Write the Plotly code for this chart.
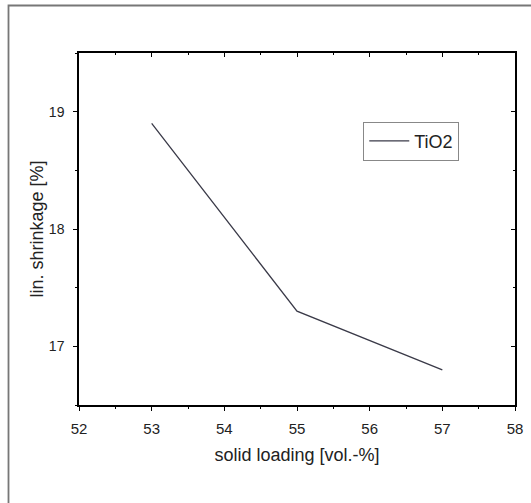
import plotly.graph_objects as go

solid_loading = [53, 55, 57]
shrinkage = [18.9, 17.3, 16.8]
series_name = "TiO2"
x_title = "solid loading [vol.-%]"
y_title = "lin. shrinkage [%]"
x_range = [52, 58]
y_range = [16.5, 19.5]

fig = go.Figure()
fig.add_trace(go.Scatter(x=solid_loading, y=shrinkage, mode="lines", name=series_name,
                         line=dict(color="#3a3a48", width=1.3), showlegend=True))
fig.add_trace(go.Scatter(x=solid_loading, y=shrinkage, mode="lines", xaxis="x2", yaxis="y2",
                         line=dict(width=0), opacity=0, showlegend=False, hoverinfo="skip"))

font = "Liberation Sans, Arial, sans-serif"
axis_common = dict(showline=True, linecolor="black", linewidth=1.5, showgrid=False,
                   zeroline=False, tickcolor="black", tickwidth=1.2, automargin=False)

fig.update_layout(
    width=531, height=503,
    margin=dict(l=79, r=16, t=53, b=98),
    paper_bgcolor="white", plot_bgcolor="white",
    font=dict(family=font, color="#222"),
    xaxis=dict(range=x_range, dtick=1, ticks="outside", ticklen=4, ticklabelstandoff=5,
               tickfont=dict(family=font, size=15, color="#222"),
               minor=dict(dtick=0.5, ticks="outside", ticklen=2, tickcolor="black"),
               title=dict(text=x_title, font=dict(family=font, size=18, color="#222"), standoff=13),
               **axis_common),
    yaxis=dict(range=y_range, dtick=1, tick0=17, ticks="outside", ticklen=4, ticklabelstandoff=6,
               tickfont=dict(family=font, size=14, color="#222"),
               minor=dict(dtick=0.5, ticks="outside", ticklen=2, tickcolor="black"),
               title=dict(text=y_title, font=dict(family=font, size=18, color="#222"), standoff=1),
               **axis_common),
    xaxis2=dict(range=x_range, dtick=1, overlaying="x", side="top", ticks="inside", ticklen=4,
                minor=dict(dtick=0.5, ticks="inside", ticklen=2, tickcolor="black"),
                showticklabels=False, anchor="y", **axis_common),
    yaxis2=dict(range=y_range, dtick=1, tick0=17, overlaying="y", side="right", ticks="inside", ticklen=4,
                minor=dict(dtick=0.5, ticks="inside", ticklen=2, tickcolor="black"),
                showticklabels=False, anchor="x", **axis_common),
    legend=dict(x=0.652, y=0.805, xanchor="left", yanchor="top",
                bordercolor="#888", borderwidth=1, bgcolor="white",
                tracegroupgap=0, itemwidth=40,
                font=dict(family=font, size=18, color="#222")),
    showlegend=True,
)

# outer gray frame (extends beyond right/bottom edges)
fig.add_shape(type="rect", xref="paper", yref="paper",
              x0=(8.5 - 79) / 436, x1=(540 - 79) / 436,
              y0=(405 - 510) / 352, y1=(405 - 5.5) / 352,
              line=dict(color="#777", width=1.8), layer="below")

fig.write_html("out.html", config={"displayModeBar": False},
               post_script="document.body.style.margin='0px';")
